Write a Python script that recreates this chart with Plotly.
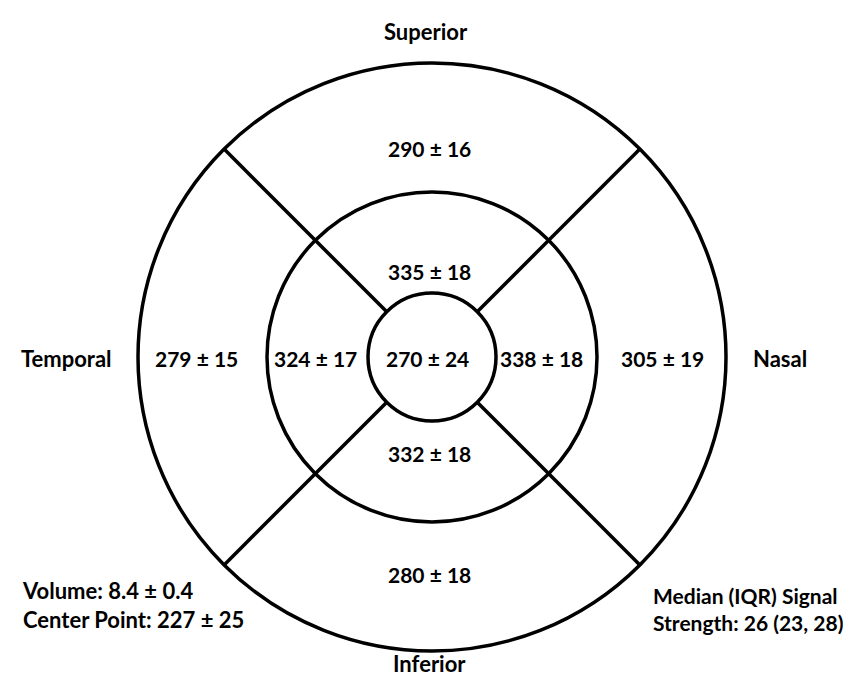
import math
import plotly.graph_objects as go

# ---- data ----
sectors = ["Superior", "Nasal", "Inferior", "Temporal"]
outer_mean = [290, 305, 280, 279]
outer_sd = [16, 19, 18, 15]
inner_mean = [335, 338, 332, 324]
inner_sd = [18, 18, 18, 17]
center_mean = 270
center_sd = 24
volume_mean, volume_sd = 8.4, 0.4
center_point_mean, center_point_sd = 227, 25
signal_median, signal_q1, signal_q3 = 26, 23, 28

# ---- layout (pixel space) ----
W, H = 851, 679
CX, CY = 424, 349
R_OUT, R_MID, R_IN = 294, 165, 64
FONT = "Lato"
FS_NUM = 21
FS_LAB = 22
LW = 3.5

outer_pos = {"Superior": (421, 140), "Nasal": (654, 350), "Inferior": (421, 566), "Temporal": (188, 350)}
inner_pos = {"Superior": (421, 263), "Nasal": (533, 350), "Inferior": (421, 445), "Temporal": (307, 350)}
label_pos = {"Superior": (418, 23), "Nasal": (772, 350), "Inferior": (421, 655), "Temporal": (58, 350)}
center_pos = (419, 350)

fig = go.Figure()
fig.add_trace(go.Scatter(x=[0, W], y=[0, H], mode="markers",
                         marker=dict(opacity=0), hoverinfo="skip", showlegend=False))

shapes = []
for r in (R_OUT, R_MID, R_IN):
    shapes.append(dict(type="circle", xref="x", yref="y",
                       x0=CX - r, x1=CX + r, y0=CY - r, y1=CY + r,
                       line=dict(color="black", width=LW)))
for ang in (45, 135, 225, 315):
    a = math.radians(ang)
    shapes.append(dict(type="line", xref="x", yref="y",
                       x0=CX + R_IN * math.cos(a), y0=CY - R_IN * math.sin(a),
                       x1=CX + R_OUT * math.cos(a), y1=CY - R_OUT * math.sin(a),
                       line=dict(color="black", width=LW)))

ann = []
def txt(x, y, s, size, xanchor="center", align="center"):
    ann.append(dict(x=x, y=y, xref="x", yref="y", text=s, showarrow=False,
                    xanchor=xanchor, yanchor="middle", align=align,
                    font=dict(family=FONT, size=size, color="black")))

for i, s in enumerate(sectors):
    txt(*outer_pos[s], f"<b>{outer_mean[i]} ± {outer_sd[i]}</b>", FS_NUM)
    txt(*inner_pos[s], f"<b>{inner_mean[i]} ± {inner_sd[i]}</b>", FS_NUM)
    txt(*label_pos[s], f"<b>{s}</b>", FS_LAB)
txt(*center_pos, f"<b>{center_mean} ± {center_sd}</b>", FS_NUM)

txt(12, 597, f"<b>Volume: {volume_mean} ± {volume_sd}</b><br>"
             f"<b>Center Point: {center_point_mean} ± {center_point_sd}</b>",
    FS_LAB, xanchor="left", align="left")
txt(643, 601, "<b>Median (IQR) Signal</b><br>"
              f"<b>Strength: {signal_median} ({signal_q1}, {signal_q3})</b>",
    FS_NUM, xanchor="left", align="left")

fig.update_layout(
    width=W, height=H, margin=dict(l=0, r=0, t=0, b=0),
    paper_bgcolor="white", plot_bgcolor="white",
    xaxis=dict(range=[0, W], visible=False, fixedrange=True),
    yaxis=dict(range=[H, 0], visible=False, fixedrange=True),
    shapes=shapes, annotations=ann, showlegend=False,
)
fig.write_html("out.html")
